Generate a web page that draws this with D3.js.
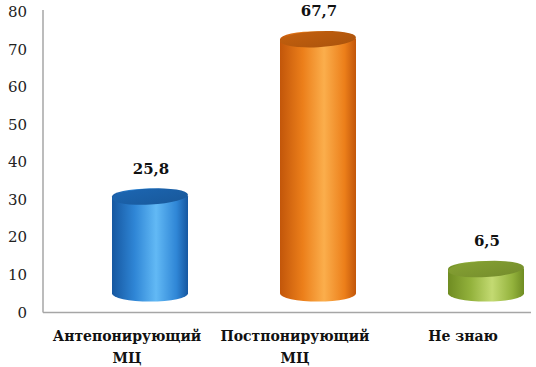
<!DOCTYPE html>
<html>
<head>
<meta charset="utf-8">
<script src="https://cdn.jsdelivr.net/npm/d3@7"></script>
<style>
  html, body { margin: 0; padding: 0; background: #fff; }
  svg { display: block; }
  svg text { font-family: 'DejaVu Serif', serif; }
</style>
</head>
<body>
<svg id="chart"></svg>
<script>
// data
const categories = ['Антепонирующий\nМЦ', 'Постпонирующий\nМЦ', 'Не знаю'];
const values = [25.8, 67.7, 6.5];
const valueLabels = ['25,8', '67,7', '6,5'];
const yTicks = [0, 10, 20, 30, 40, 50, 60, 70, 80];

// cylinder palettes: edge, mid, highlight, top
const palettes = [
  { edge: '#1657a0', mid: '#2f86d6', hi: '#62b9f5', top: '#1c66b2' },
  { edge: '#c2560a', mid: '#ec7f1a', hi: '#fbae4c', top: '#c4600e' },
  { edge: '#6f8c22', mid: '#93b23c', hi: '#c3da72', top: '#86a233' }
];

const width = 536, height = 367;
const margin = { top: 12, right: 0, bottom: 54, left: 43 };

const svg = d3.select('#chart')
  .attr('width', width)
  .attr('height', height)
  .attr('viewBox', `0 0 ${width} ${height}`);

const yScale = d3.scaleLinear()
  .domain([0, 80])
  .range([height - margin.bottom - 0.5, margin.top]);

const xScale = d3.scaleBand()
  .domain(categories)
  .range([margin.left, 547]);

// 3d offset of the cylinders relative to the back wall
const depthX = 23, depthY = -19;
const rx = 38, ry = 8;

// gradients
const defs = svg.append('defs');
palettes.forEach((p, i) => {
  const grad = defs.append('linearGradient')
    .attr('id', `body-${i}`)
    .attr('x1', '0%').attr('x2', '100%').attr('y1', '0%').attr('y2', '0%');
  grad.append('stop').attr('offset', '0%').attr('stop-color', p.edge);
  grad.append('stop').attr('offset', '30%').attr('stop-color', p.mid);
  grad.append('stop').attr('offset', '58%').attr('stop-color', p.hi);
  grad.append('stop').attr('offset', '85%').attr('stop-color', p.mid);
  grad.append('stop').attr('offset', '100%').attr('stop-color', p.edge);

  const topGrad = defs.append('linearGradient')
    .attr('id', `top-${i}`)
    .attr('x1', '0%').attr('x2', '100%').attr('y1', '0%').attr('y2', '100%');
  topGrad.append('stop').attr('offset', '0%').attr('stop-color', p.top);
  topGrad.append('stop').attr('offset', '100%').attr('stop-color', d3.color(p.top).darker(0.4));
});

// axes lines
const x0 = margin.left;
svg.append('line')
  .attr('x1', x0).attr('x2', x0)
  .attr('y1', yScale(80) - 2).attr('y2', yScale(0))
  .attr('stroke', '#a6a6a6').attr('stroke-width', 1.5);

svg.append('line')
  .attr('x1', x0).attr('x2', 531)
  .attr('y1', yScale(0)).attr('y2', yScale(0))
  .attr('stroke', '#a6a6a6').attr('stroke-width', 1.5);

// y tick labels
svg.append('g')
  .selectAll('text')
  .data(yTicks)
  .join('text')
  .attr('x', 27)
  .attr('y', d => yScale(d) + 5)
  .attr('text-anchor', 'end')
  .attr('font-size', '15px')
  .attr('fill', '#222')
  .text(d => d);

// cylinders
const bars = svg.append('g');
categories.forEach((c, i) => {
  const cx = xScale(c) + xScale.bandwidth() / 2 + depthX;
  const topY = yScale(values[i]) + depthY;
  const botY = yScale(0) + depthY;

  bars.append('path')
    .attr('d', `M${cx - rx},${topY} L${cx - rx},${botY}
      A${rx},${ry} 0 0 0 ${cx + rx},${botY}
      L${cx + rx},${topY}
      A${rx},${ry} 0 0 0 ${cx - rx},${topY} Z`)
    .attr('fill', `url(#body-${i})`);

  bars.append('ellipse')
    .attr('cx', cx).attr('cy', topY)
    .attr('rx', rx).attr('ry', ry)
    .attr('transform', `rotate(-3, ${cx}, ${topY})`)
    .attr('fill', `url(#top-${i})`);

  svg.append('text')
    .attr('x', cx + 1)
    .attr('y', yScale(values[i]) - 42)
    .attr('text-anchor', 'middle')
    .attr('font-weight', 'bold')
    .attr('font-size', '15px')
    .attr('fill', '#111')
    .text(valueLabels[i]);
});

// category labels
categories.forEach(c => {
  const t = svg.append('text')
    .attr('x', xScale(c) + xScale.bandwidth() / 2)
    .attr('y', 341)
    .attr('text-anchor', 'middle')
    .attr('font-weight', 'bold')
    .attr('font-size', '14px')
    .attr('fill', '#111');
  c.split('\n').forEach((line, j) => {
    t.append('tspan')
      .attr('x', xScale(c) + xScale.bandwidth() / 2)
      .attr('dy', j === 0 ? 0 : 22)
      .text(line);
  });
});
</script>
</body>
</html>
